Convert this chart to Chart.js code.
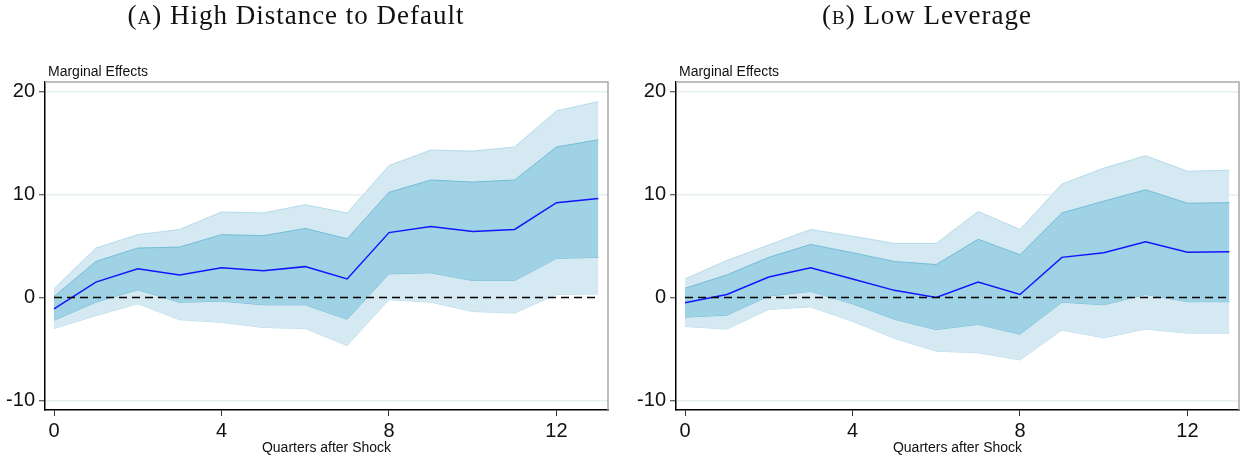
<!DOCTYPE html>
<html>
<head>
<meta charset="utf-8">
<script src="https://cdn.jsdelivr.net/npm/chart.js@4.4.1/dist/chart.umd.min.js"></script>
<style>
  body { margin: 0; background: #fff; }
  #wrap { position: relative; width: 1242px; height: 460px; overflow: hidden; }
  canvas { position: absolute; top: 0; }
  .title {
    position: absolute; top: 0; width: 600px; text-align: center;
    font-family: "Liberation Serif", serif; font-size: 27px; line-height: 30px;
    letter-spacing: 1px; color: #111;
  }
  .sc { font-variant: small-caps; }
</style>
</head>
<body>
<div id="wrap">
  <canvas id="chart-a" width="620" height="460" style="left:0"></canvas>
  <canvas id="chart-b" width="622" height="460" style="left:620px"></canvas>
  <div class="title" style="left:-4px">(<span class="sc">a</span>) High Distance to Default</div>
  <div class="title" style="left:627px">(<span class="sc">b</span>) Low Leverage</div>
</div>
<script>
'use strict';
//shared axis values
let quarters = [0, 1, 2, 3, 4, 5, 6, 7, 8, 9, 10, 11, 12, 13];
let xTicks = [0, 4, 8, 12];
let yTicks = [-10, 0, 10, 20];
let zeroLine = [0, 0, 0, 0, 0, 0, 0, 0, 0, 0, 0, 0, 0, 0];

//panel a - high distance to default
let aEffect = [-1.1, 1.5, 2.8, 2.2, 2.9, 2.6, 3.0, 1.8, 6.3, 6.9, 6.4, 6.6, 9.2, 9.6];
let aInnerUp = [0.1, 3.5, 4.8, 4.9, 6.1, 6.0, 6.7, 5.7, 10.2, 11.4, 11.2, 11.4, 14.6, 15.3];
let aInnerLo = [-2.2, -0.45, 0.75, -0.45, -0.35, -0.7, -0.7, -2.1, 2.3, 2.4, 1.65, 1.65, 3.8, 3.9];
let aOuterUp = [0.85, 4.8, 6.1, 6.6, 8.3, 8.2, 9.0, 8.2, 12.8, 14.3, 14.2, 14.6, 18.1, 19.0];
let aOuterLo = [-3.0, -1.75, -0.6, -2.15, -2.4, -2.9, -3.0, -4.65, -0.2, -0.45, -1.35, -1.5, 0.3, 0.35];

//panel b - low leverage
let bEffect = [-0.5, 0.3, 2.0, 2.9, 1.8, 0.7, 0.0, 1.5, 0.3, 3.9, 4.35, 5.4, 4.4, 4.45];
let bInnerUp = [0.9, 2.2, 3.9, 5.15, 4.35, 3.5, 3.2, 5.65, 4.15, 8.2, 9.35, 10.45, 9.15, 9.2];
let bInnerLo = [-1.9, -1.7, 0.15, 0.6, -0.6, -2.1, -3.1, -2.6, -3.55, -0.45, -0.7, 0.3, -0.4, -0.4];
let bOuterUp = [1.8, 3.6, 5.1, 6.6, 5.95, 5.25, 5.25, 8.35, 6.6, 11.0, 12.55, 13.75, 12.25, 12.35];
let bOuterLo = [-2.8, -3.05, -1.15, -0.9, -2.3, -3.95, -5.2, -5.35, -6.05, -3.15, -3.9, -3.05, -3.45, -3.45];

//turn a list of values into x/y points
function toPoints(values){
  return quarters.map((q, i) => ({x: q, y: values[i]}));
}

//draws the y title on top and the grey top/right frame
let framePlugin = {
  id: 'frame',
  afterDraw(chart){
    let ctx = chart.ctx;
    let a = chart.chartArea;
    ctx.save();
    ctx.strokeStyle = '#a8a8a8';
    ctx.lineWidth = 1.5;
    ctx.beginPath();
    ctx.moveTo(a.left, a.top);
    ctx.lineTo(a.right, a.top);
    ctx.lineTo(a.right, a.bottom);
    ctx.stroke();
    ctx.fillStyle = '#111';
    ctx.font = '14px "Liberation Sans", Arial, sans-serif';
    ctx.textBaseline = 'alphabetic';
    ctx.fillText('Marginal Effects', a.left + 3, a.top - 6);
    ctx.restore();
  }
};

function renderPanel(canvasId, effect, innerUp, innerLo, outerUp, outerLo, axisWidth, padRight){
  let ctx = document.getElementById(canvasId).getContext('2d');
  new Chart(ctx, {
    type: 'line',
    data: {
      datasets: [{
        data: toPoints(zeroLine),
        borderColor: '#000',
        borderWidth: 1.5,
        borderDash: [8, 5],
        pointRadius: 0,
        fill: false,
        order: 0
      },{
        data: toPoints(effect),
        borderColor: '#1414ff',
        borderWidth: 1.5,
        pointRadius: 0,
        fill: false,
        order: 1
      },{
        data: toPoints(innerUp),
        borderColor: '#74bcd8',
        backgroundColor: '#9fd2e4',
        borderWidth: 1,
        pointRadius: 0,
        fill: '+1',
        order: 2
      },{
        data: toPoints(innerLo),
        borderColor: '#74bcd8',
        borderWidth: 1,
        pointRadius: 0,
        fill: false,
        order: 2
      },{
        data: toPoints(outerUp),
        borderColor: '#b4dbea',
        backgroundColor: '#d5e9f2',
        borderWidth: 1,
        pointRadius: 0,
        fill: '+1',
        order: 3
      },{
        data: toPoints(outerLo),
        borderColor: '#b4dbea',
        borderWidth: 1,
        pointRadius: 0,
        fill: false,
        order: 3
      }]
    },
    options: {
      responsive: false,
      animation: false,
      devicePixelRatio: 1,
      layout: {
        padding: {top: 82, right: padRight, bottom: 0, left: 0}
      },
      plugins: {
        legend: {display: false},
        tooltip: {enabled: false}
      },
      scales: {
        x: {
          type: 'linear',
          min: -0.215,
          max: 13.23,
          afterBuildTicks: (scale) => { scale.ticks = xTicks.map(v => ({value: v})); },
          afterFit: (scale) => { scale.height = 50; },
          grid: {drawOnChartArea: false, tickLength: 6, tickColor: '#333', tickWidth: 1},
          border: {color: '#000', width: 1.5},
          ticks: {
            color: '#111',
            padding: 3,
            font: {family: '"Liberation Sans", Arial, sans-serif', size: 20}
          },
          title: {
            display: true,
            text: 'Quarters after Shock',
            color: '#111',
            padding: {top: 0, bottom: 3},
            font: {family: '"Liberation Sans", Arial, sans-serif', size: 14}
          }
        },
        y: {
          min: -10.9,
          max: 20.9,
          afterBuildTicks: (scale) => { scale.ticks = yTicks.map(v => ({value: v})); },
          afterFit: (scale) => { scale.width = axisWidth; },
          grid: {
            color: (c) => (c.tick && c.tick.value === 0 ? 'rgba(0,0,0,0)' : '#e6f0f3'),
            lineWidth: 1.5,
            tickLength: 6,
            tickColor: '#333',
            tickWidth: 1
          },
          border: {color: '#000', width: 1.5},
          ticks: {
            color: '#111',
            padding: 4,
            font: {family: '"Liberation Sans", Arial, sans-serif', size: 20}
          }
        }
      }
    },
    plugins: [framePlugin]
  });
}

renderPanel('chart-a', aEffect, aInnerUp, aInnerLo, aOuterUp, aOuterLo, 45, 12);
renderPanel('chart-b', bEffect, bInnerUp, bInnerLo, bOuterUp, bOuterLo, 56, 3);
</script>
</body>
</html>
